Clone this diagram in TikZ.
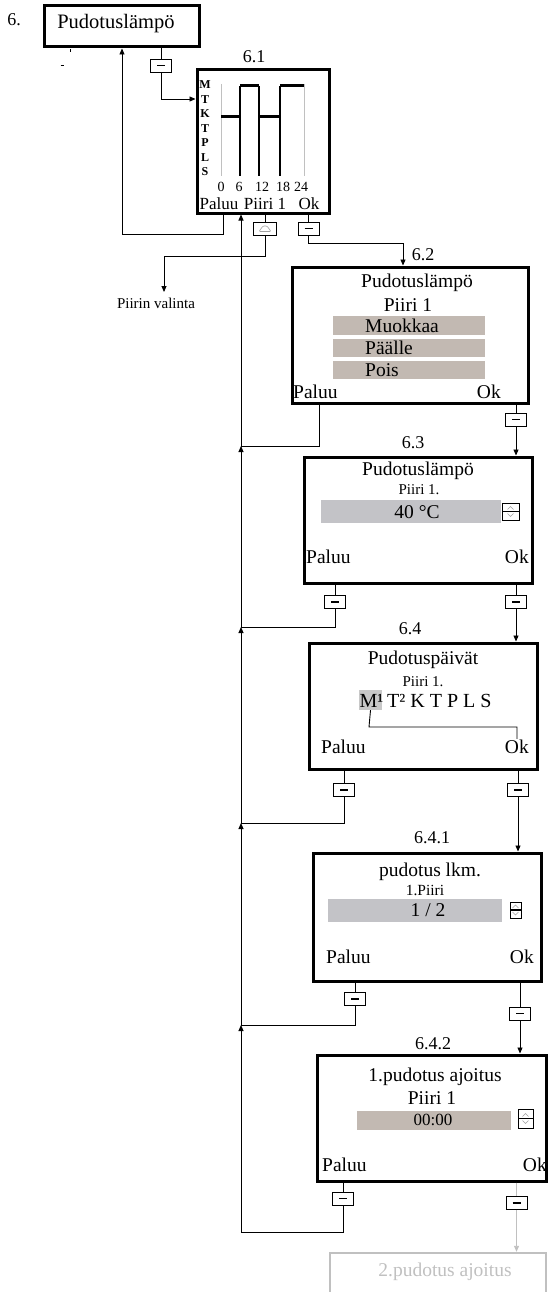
\documentclass[tikz,border=0pt]{standalone}
\usepackage{fontspec}
\setmainfont{Liberation Serif}
\usetikzlibrary{arrows.meta,calc}
\definecolor{tanbar}{HTML}{C2B9B2}
\definecolor{graybar}{HTML}{C3C3C7}
\definecolor{hlgray}{HTML}{C8C8C8}
\definecolor{faint}{HTML}{C0C0C0}
\definecolor{icong}{HTML}{A0A0A0}
\begin{document}
\begin{tikzpicture}[x=1pt,y=-1pt,
  scr/.style={draw,line width=3pt,inner sep=0pt},
  btn/.style={draw,line width=0.9pt,minimum width=21pt,minimum height=13pt,inner sep=0pt,fill=white,
     path picture={\draw[line width=1.3pt] ([xshift=-4pt]path picture bounding box.center) -- ([xshift=4pt]path picture bounding box.center);}},
  pbtn/.style={draw,line width=0.9pt,minimum width=23pt,minimum height=13pt,inner sep=0pt,fill=white,
     path picture={\draw[icong,line width=0.6pt,rounded corners=1pt] ($(path picture bounding box.center)+(-6,3)$) -- ($(path picture bounding box.center)+(-2,-2.5)$) -- ($(path picture bounding box.center)+(2,-2.5)$) -- ($(path picture bounding box.center)+(6,3)$) -- cycle;}},
  updn/.style={draw,line width=0.9pt,inner sep=0pt,fill=white,
     path picture={\draw[line width=1.6pt] (path picture bounding box.west) -- (path picture bounding box.east);
       \draw[icong,line width=0.5pt] ($(path picture bounding box.center)+(-3,-2)$) -- ++(3,-3) -- ++(3,3);
       \draw[icong,line width=0.5pt] ($(path picture bounding box.center)+(-3,2)$) -- ++(3,3) -- ++(3,-3);}},
  con/.style={line width=0.9pt},
  arr/.style={con,-{Triangle[length=6pt,width=5pt]}},
  big/.style={font=\fontsize{19.5}{21}\selectfont,inner sep=0pt},
  mid/.style={font=\fontsize{17}{19}\selectfont,inner sep=0pt},
  sml/.style={font=\fontsize{15}{17}\selectfont,inner sep=0pt},
  lbl/.style={font=\fontsize{18}{20}\selectfont,inner sep=0pt},
  bar/.style={inner sep=0pt,draw=none},
]
\useasboundingbox (0,0) rectangle (552,1292);
\clip (0,0) rectangle (552,1292);

% ---------------- box 6 ----------------
\node[lbl] (l6) at (14,20) {6.};
\node[scr,minimum width=155pt,minimum height=41pt] (b6) at (121.5,26.5) {};
\node[font=\fontsize{20.5}{22}\selectfont,inner sep=0pt] (t6) at (116,24) {Pudotuslämpö};
\draw[line width=0.8pt] (70,49) -- (70,52);
\draw[line width=0.8pt] (60.5,65) -- (63.5,65);
\node[btn] (b6btn) at (161,65.5) {};

% ---------------- 6.1 ----------------
\node[lbl] (l61) at (254,57) {6.1};
\node[scr,minimum width=132pt,minimum height=143pt] (b61) at (263,141.5) {};
\foreach \l [count=\i] in {M,T,K,T,P,L,S}
  \node[font=\bfseries\fontsize{12}{12}\selectfont,inner sep=0pt] (d\i) at (205,{85+14.5*(\i-1)}) {\l};
\draw[faint,line width=0.7pt] (221,84) -- (221,176);
\draw[faint,line width=0.7pt] (304,84) -- (304,176);
\draw[line width=1.4pt] (240,86) -- (240,176);
\draw[line width=1.4pt] (259,86) -- (259,176);
\draw[line width=1.4pt] (280,86) -- (280,176);
\draw[line width=3pt] (221,117) -- (240,117);
\draw[line width=3pt] (240,86) -- (259,86);
\draw[line width=3pt] (259,117) -- (280,117);
\draw[line width=3pt] (280,86) -- (304,86);
\node[font=\fontsize{14}{14}\selectfont,inner sep=0pt] (n0) at (221,187) {0};
\node[font=\fontsize{14}{14}\selectfont,inner sep=0pt] (n6) at (239,187) {6};
\node[font=\fontsize{14}{14}\selectfont,inner sep=0pt] (n12) at (262,187) {12};
\node[font=\fontsize{14}{14}\selectfont,inner sep=0pt] (n18) at (283,187) {18};
\node[font=\fontsize{14}{14}\selectfont,inner sep=0pt] (n24) at (301,187) {24};
\node[mid] (p61) at (219,204) {Paluu};
\node[mid] (s61) at (265,204) {Piiri 1};
\node[mid] (o61) at (309,204) {Ok};
\node[pbtn] (b61piiri) at (265,228.5) {};
\node[btn] (b61ok) at (308.5,228.5) {};
\node[sml] (pv) at (156,303) {Piirin valinta};

% ---------------- 6.2 ----------------
\node[lbl] (l62) at (423,255) {6.2};
\node[scr,minimum width=236pt,minimum height=136pt] (b62) at (410,335) {};
\node[big] (t62a) at (417,283) {Pudotuslämpö};
\node[big] (t62b) at (408,305) {Piiri 1};
\node[bar,fill=tanbar,minimum width=152pt,minimum height=19pt] (m1) at (409,325.5) {};
\node[bar,fill=tanbar,minimum width=152pt,minimum height=18pt] (m2) at (409,348) {};
\node[bar,fill=tanbar,minimum width=152pt,minimum height=18pt] (m3) at (409,370) {};
\node[big,anchor=west] (m1t) at (365,325.5) {Muokkaa};
\node[big,anchor=west] (m2t) at (365,348) {Päälle};
\node[big,anchor=west] (m3t) at (365,370) {Pois};
\node[big,anchor=west] (p62) at (293,392) {Paluu};
\node[big,anchor=east] (o62) at (501,392) {Ok};
\node[btn] (b62ok) at (516,419.5) {};

% ---------------- 6.3 ----------------
\node[lbl] (l63) at (413,443) {6.3};
\node[scr,minimum width=228pt,minimum height=126pt] (b63) at (418,520) {};
\node[big] (t63a) at (418,471) {Pudotuslämpö};
\node[sml] (t63b) at (419,490) {Piiri 1.};
\node[bar,fill=graybar,minimum width=180pt,minimum height=23pt] (v63) at (411,511.5) {};
\node[big] (v63t) at (417,512) {40 °C};
\node[updn,minimum width=17pt,minimum height=17pt] (u63) at (510.5,511.5) {};
\node[big,anchor=west] (p63) at (306,557) {Paluu};
\node[big,anchor=east] (o63) at (529,557) {Ok};
\node[btn] (b63pal) at (335,602) {};
\node[btn] (b63ok) at (516,602) {};

% ---------------- 6.4 ----------------
\node[lbl] (l64) at (410,629) {6.4};
\node[scr,minimum width=228pt,minimum height=126pt] (b64) at (423,706) {};
\node[big] (t64a) at (423,660) {Pudotuspäivät};
\node[sml] (t64b) at (423,682) {Piiri 1.};
\node[fill=hlgray,inner sep=0pt,minimum width=23pt,minimum height=20pt] (mh) at (370.5,700) {};
\node[font=\fontsize{20}{22}\selectfont,inner sep=0pt,anchor=west] (mt) at (359.5,701) {M¹};
\node[font=\fontsize{20}{22}\selectfont,inner sep=0pt,anchor=west] (rt) at (387,701) {T² K T P L S};
\coordinate (q1) at (369,727);
\node[big,anchor=west] (p64) at (321,747) {Paluu};
\node[big,anchor=east] (o64) at (529,747) {Ok};
\draw[con] (mh.south) -- (q1) -| ([yshift=1pt]o64.north -| 517,0);
\node[btn] (b64pal) at (344,790) {};
\node[btn] (b64ok) at (518,790) {};

% ---------------- 6.4.1 ----------------
\node[lbl] (l641) at (432,838) {6.4.1};
\node[scr,minimum width=228pt,minimum height=128pt] (b641) at (427,917) {};
\node[big] (t641a) at (430,872) {pudotus lkm.};
\node[font=\fontsize{15.5}{17}\selectfont,inner sep=0pt] (t641b) at (425,890) {1.Piiri};
\node[bar,fill=graybar,minimum width=174pt,minimum height=23pt] (v641) at (415,910.5) {};
\node[big] (v641t) at (428,910) {1 / 2};
\node[updn,minimum width=11pt,minimum height=16pt] (u641) at (515.5,910) {};
\node[big,anchor=west] (p641) at (326,957) {Paluu};
\node[big,anchor=east] (o641) at (534,957) {Ok};
\node[btn] (b641pal) at (355,999) {};
\node[btn] (b641ok) at (520,1013.5) {};

% ---------------- 6.4.2 ----------------
\node[lbl] (l642) at (433,1044) {6.4.2};
\node[scr,minimum width=229pt,minimum height=126pt] (b642) at (431.5,1118) {};
\node[big] (t642a) at (435,1077) {1.pudotus ajoitus};
\node[big] (t642b) at (432,1098) {Piiri 1};
\node[bar,fill=tanbar,minimum width=154pt,minimum height=19pt] (v642) at (434,1120.5) {};
\node[mid] (v642t) at (433,1120) {00:00};
\node[updn,minimum width=15pt,minimum height=19pt] (u642) at (525.5,1118.5) {};
\node[big,anchor=west] (p642) at (322,1165) {Paluu};
\node[big,anchor=east] (o642) at (547,1165) {Ok};
\node[btn] (b642pal) at (343,1198.5) {};
\node[btn] (b642ok) at (516.5,1203) {};

% ---------------- faint next box ----------------
\node[draw=faint,line width=2.4pt,minimum width=216pt,minimum height=76pt,inner sep=0pt] (b643) at (438,1291) {};
\node[big,text=faint] (t643) at (445,1272) {2.pudotus ajoitus};

% ---------------- connectors ----------------
% 6 -> 6.1
\coordinate (k61) at (161,99);
\draw[con] (b6.south -| b6btn) -- (b6btn.north);
\draw[arr] (b6btn.south) -- (k61) -- (k61 -| b61.west);
% 6.1 Paluu -> 6
\coordinate (k61p) at (223,234);
\coordinate (k6r) at (122,100);
\draw[arr] (b61.south -| k61p) -- (k61p) -| (b6.south -| k6r);
% 6.1 Piiri -> Piirin valinta
\coordinate (k63) at (164,256);
\coordinate (k64) at (164,292);
\draw[con] (b61.south -| b61piiri) -- (b61piiri.north);
\draw[arr] (b61piiri.south) |- (k63) -- (k64);
% 6.1 Ok -> 6.2
\coordinate (k62a) at (308.5,243);
\coordinate (k62b) at (403,243);
\draw[con] (b61.south -| b61ok) -- (b61ok.north);
\draw[arr] (b61ok.south) -- (k62a) -- (k62b) -- (b62.north -| k62b);
% Ok chain
\draw[con] (b62.south -| b62ok) -- (b62ok.north);
\draw[arr] (b62ok.south) -- (b62ok.south |- b63.north);
\draw[con] (b63.south -| b63ok) -- (b63ok.north);
\draw[arr] (b63ok.south) -- (b63ok.south |- b64.north);
\draw[con] (b64.south -| b64ok) -- (b64ok.north);
\draw[arr] (b64ok.south) -- (b64ok.south |- b641.north);
\draw[con] (b641.south -| b641ok) -- (b641ok.north);
\draw[arr] (b641ok.south) -- (b641ok.south |- b642.north);
\draw[con,faint] (b642.south -| b642ok) -- (b642ok.north);
\draw[arr,faint] (b642ok.south) -- (b642ok.south |- b643.north);
% return line
\coordinate (r0) at (241,1232);
\coordinate (r1) at (241,1025);
\coordinate (r2) at (241,823);
\coordinate (r3) at (241,627);
\coordinate (r4) at (241,446);
\coordinate (p62c) at (319,446);
\draw[arr] (r0) -- (r1);
\draw[arr] (r1) -- (r2);
\draw[arr] (r2) -- (r3);
\draw[arr] (r3) -- (r4);
\draw[arr] (r4) -- (b61.south -| r4);
\draw[con] (b62.south -| p62c) -- (p62c) -- (r4);
\draw[con] (b63.south -| b63pal) -- (b63pal.north);
\draw[con] (b63pal.south) |- (r3);
\draw[con] (b64.south -| b64pal) -- (b64pal.north);
\draw[con] (b64pal.south) |- (r2);
\draw[con] (b641.south -| b641pal) -- (b641pal.north);
\draw[con] (b641pal.south) |- (r1);
\draw[con] (b642.south -| b642pal) -- (b642pal.north);
\draw[con] (b642pal.south) |- (r0);
\end{tikzpicture}
\end{document}
